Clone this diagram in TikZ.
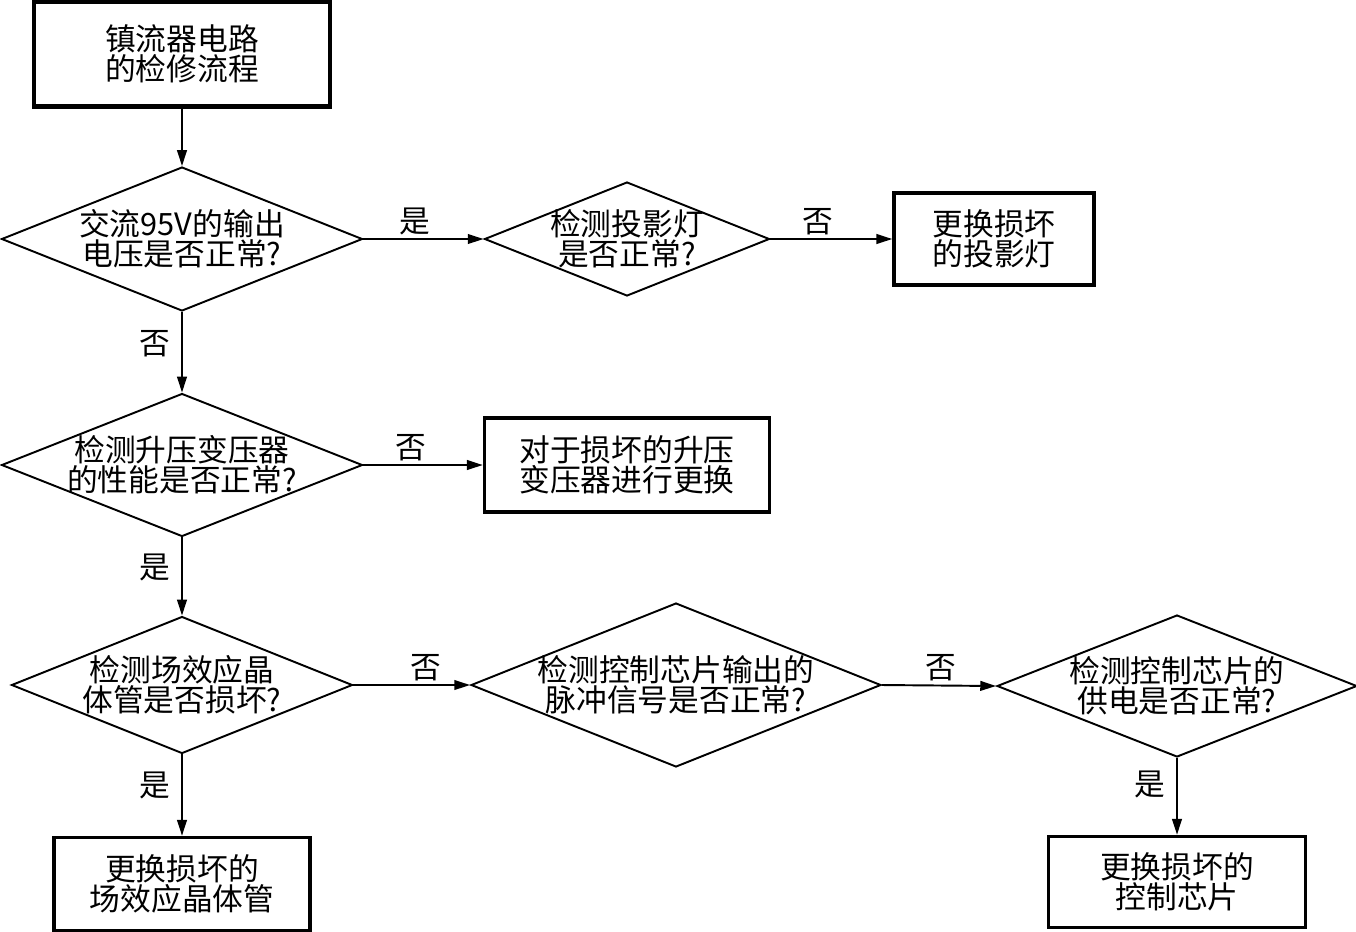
\documentclass[tikz,border=0pt]{standalone}
\usepackage{fontspec}
\newfontfamily\cjk{Noto Sans CJK SC}
\usetikzlibrary{shapes.geometric,arrows.meta}
\tikzset{
  hop/.style={draw,line width=2pt,inner sep=0pt,align=center},
  thoi/.style={diamond,draw,line width=1.1pt,aspect=2.5,inner sep=-20pt,align=center},
  muiten/.style={line width=1.1pt,-{Triangle[length=9pt,width=5.5pt]}},
  nhan/.style={inner sep=2pt}
}
\begin{document}
\begin{tikzpicture}[x=0.02cm,y=-0.02cm,font=\cjk\fontsize{17.5}{17}\selectfont]
	\useasboundingbox (0,0) rectangle (1356,931);
	
	% Khối bắt đầu
	\node[hop,line width=2.4pt,minimum width=5.92cm,minimum height=2.1cm] (start) at (182,54) {镇流器电路\\的检修流程};
	
	% Các khối hỏi
	\node[thoi,minimum width=7.22cm,minimum height=2.88cm] (ac) at (182,239) {交流95V的输出\\电压是否正常?};
	\node[thoi,minimum width=5.7cm,minimum height=2.28cm] (lamp) at (627,239) {检测投影灯\\是否正常?};
	\node[thoi,minimum width=7.22cm,minimum height=2.86cm] (trans) at (182,465) {检测升压变压器\\的性能是否正常?};
	\node[thoi,minimum width=6.82cm,minimum height=2.74cm] (fet) at (182,685) {检测场效应晶\\体管是否损坏?};
	\node[thoi,minimum width=8.2cm,minimum height=3.28cm] (pulse) at (676,685) {检测控制芯片输出的\\脉冲信号是否正常?};
	\node[thoi,minimum width=7.2cm,minimum height=2.84cm] (power) at (1177,686) {检测控制芯片的\\供电是否正常?};
	
	% Các khối xử lý
	\node[hop,minimum width=4cm,minimum height=1.84cm] (newlamp) at (994,239) {更换损坏\\的投影灯};
	\node[hop,minimum width=5.7cm,minimum height=1.88cm] (newtrans) at (627,465) {对于损坏的升压\\变压器进行更换};
	\node[hop,minimum width=5.12cm,minimum height=1.86cm] (newfet) at (182,884) {更换损坏的\\场效应晶体管};
	\node[hop,minimum width=5.14cm,minimum height=1.82cm] (newchip) at (1177,882) {更换损坏的\\控制芯片};
	
	% Mũi tên và nhãn
	\draw[muiten] (start) -- (ac.north);
	\draw[muiten] (ac.east) -- node[nhan,above,pos=0.43] {是} (lamp.west);
	\draw[muiten] (lamp.east) -- node[nhan,above,pos=0.39] {否} (newlamp.west);
	\draw[muiten] (ac.south) -- node[nhan,left=4pt,pos=0.39] {否} (trans.north);
	\draw[muiten] (trans.east) -- node[nhan,above,pos=0.4] {否} (newtrans.west);
	\draw[muiten] (trans.south) -- node[nhan,left=4pt,pos=0.39] {是} (fet.north);
	\draw[muiten] (fet.east) -- node[nhan,above,pos=0.62] {否} (pulse.west);
	\draw[muiten] (pulse.east) -- node[nhan,above,pos=0.52] {否} (power.west);
	\draw[muiten] (fet.south) -- node[nhan,left=4pt,pos=0.38] {是} (newfet.north);
	\draw[muiten] (power.south) -- node[nhan,left=4pt,pos=0.35] {是} (newchip.north);
	
\end{tikzpicture}
\end{document}
